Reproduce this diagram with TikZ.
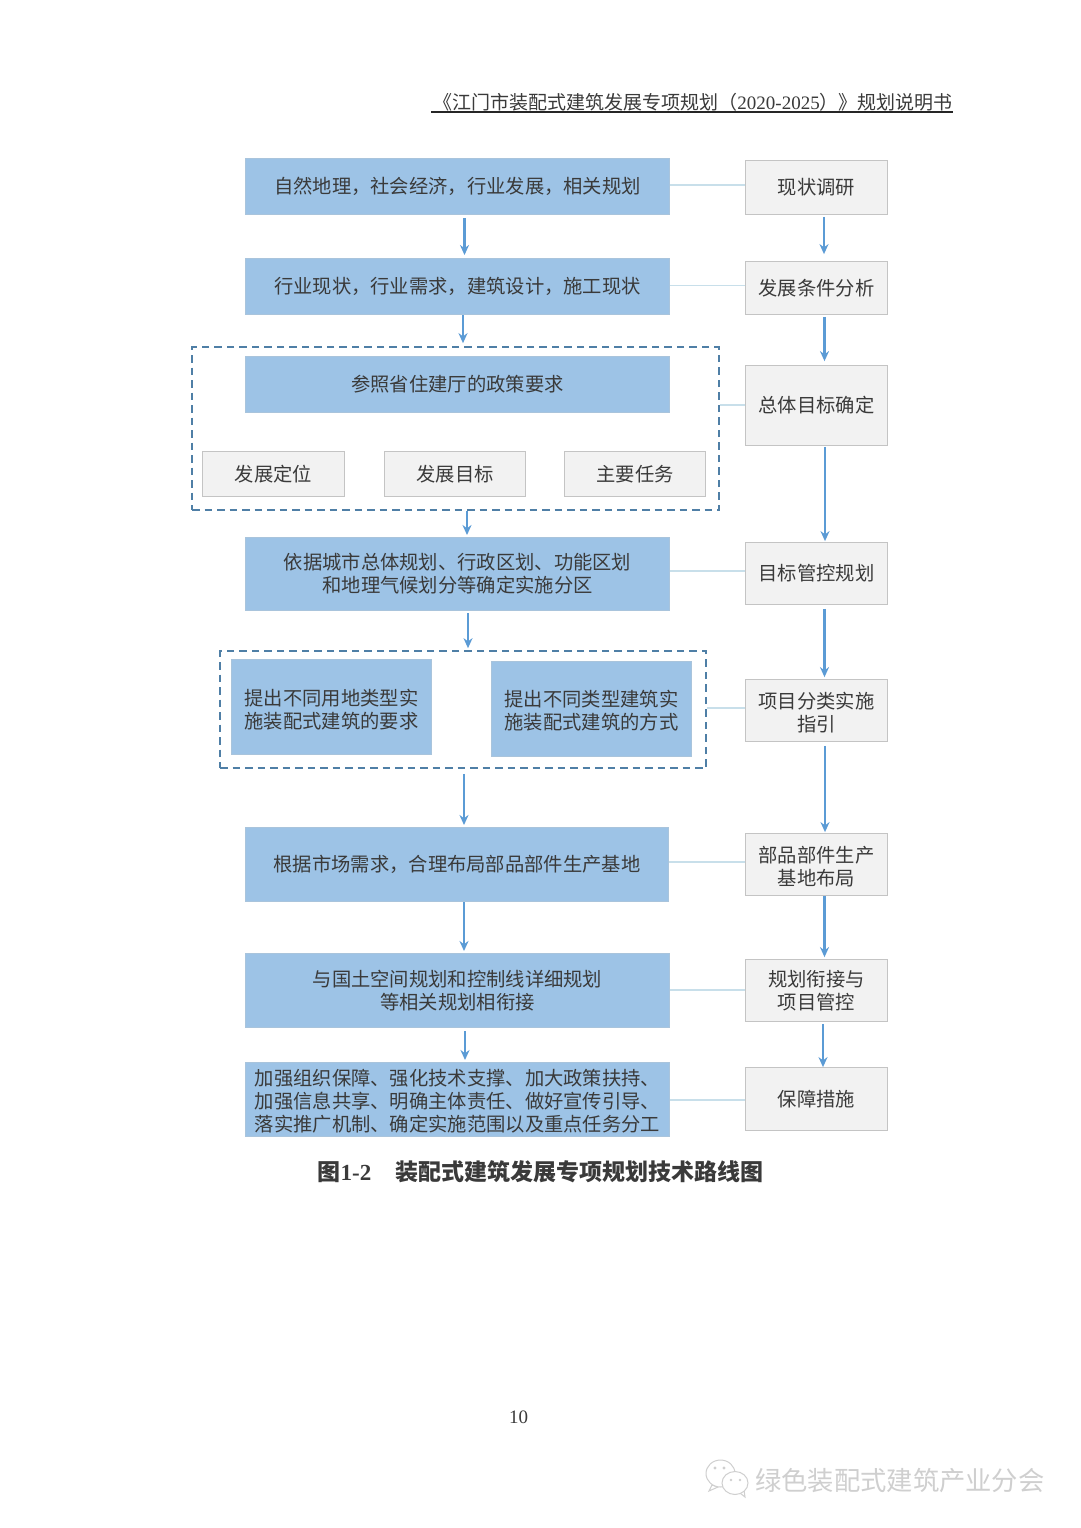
\documentclass[tikz,border=0pt]{standalone}
\usepackage{fontspec}
\setmainfont{Liberation Serif}
\newfontfamily\cjk{Noto Sans CJK SC}
\usetikzlibrary{arrows.meta}
\definecolor{boxblue}{HTML}{9DC3E6}
\definecolor{boxblueline}{HTML}{A9C4DC}
\definecolor{boxgray}{HTML}{F2F2F2}
\definecolor{boxgrayline}{HTML}{C4C4C4}
\definecolor{flowblue}{HTML}{5B9BD5}
\definecolor{linkblue}{HTML}{C8DFEA}
\definecolor{dashblue}{HTML}{4F7FA6}
\definecolor{inktext}{HTML}{3A3A3A}
\definecolor{markgray}{HTML}{CFCFCF}
\tikzset{
  x=1pt,y=-1pt,
  boxsz/.style 2 args={minimum width=#1pt-1.2pt,minimum height=#2pt-1.2pt},
  basebox/.style={rectangle,inner sep=0pt,align=center,text=inktext,
    font=\cjk\fontsize{19.3}{22.8}\selectfont},
  bluebox/.style={basebox,fill=boxblue,draw=boxblueline,line width=1.2pt},
  graybox/.style={basebox,fill=boxgray,draw=boxgrayline,line width=1pt},
  dashbox/.style={rectangle,inner sep=0pt,draw=dashblue,line width=1.7pt,dash pattern=on 7.5pt off 5pt},
  flowline/.style={draw=flowblue,line width=2.4pt,-{Stealth[length=10pt,width=9pt]}},
  linkline/.style={draw=linkblue,line width=1.2pt},
  bubble/.style={draw=markgray,fill=white,line width=1pt},
}
% pushes a node's text down by enlarging its first line
\newcommand\lowerby[1]{\rule{0pt}{\dimexpr 16.9pt+2\dimexpr #1pt\relax\relax}}
% vertical arrow at absolute x: from, to, x, gap at start, gap at end
\newcommand\flowat[5]{\path (#3,0) coordinate (fx);
  \draw[flowline] ([yshift=-#4pt]#1.south -| fx) -- ([yshift=#5pt]#2.north -| fx);}
% horizontal tie line at given offset
\newcommand\tie[3]{\draw[linkline] ([yshift=#3pt]#1.east) -- ([yshift=#3pt]#1.east -| #2.west);}
\begin{document}
\begin{tikzpicture}
\path[use as bounding box,fill=white] (0,0) rectangle (1080,1528);

% header
\node[anchor=east,inner sep=0pt,text=inktext,font=\fontsize{19}{22}\selectfont] (head) at (953,102)
  {{\cjk 《江门市装配式建筑发展专项规划（}2020-2025{\cjk ）》规划说明书}};
\coordinate (headR) at (953,112);
\coordinate (headL) at (431,112);
\draw[line width=1.2pt,black!85] (headL) -- (headR);

% dashed groups
\node[dashbox,minimum width=527pt,minimum height=163pt] (g1) at (455.5,428.5) {};
\node[dashbox,minimum width=486pt,minimum height=117pt] (g2) at (463,709.5) {};

% left column
\node[bluebox,boxsz={425}{57}] (L1) at (457.5,186.5) {自然地理，社会经济，行业发展，相关规划};
\node[bluebox,boxsz={425}{57}] (L2) at (457.5,286.5) {行业现状，行业需求，建筑设计，施工现状};
\node[bluebox,boxsz={425}{57}] (L3) at (457.5,384.5) {参照省住建厅的政策要求};
\node[graybox,boxsz={143}{46}] (G1) at (273.5,474) {发展定位};
\node[graybox,boxsz={142}{46}] (G2) at (455,474) {发展目标};
\node[graybox,boxsz={142}{46}] (G3) at (635,474) {主要任务};
\node[bluebox,boxsz={425}{74}] (L4) at (457.5,574) {依据城市总体规划、行政区划、功能区划\\和地理气候划分等确定实施分区};
\node[bluebox,boxsz={201}{96}] (A) at (331.5,707) {\lowerby{2.5}提出不同用地类型实\\施装配式建筑的要求};
\node[bluebox,boxsz={201}{96}] (B) at (591.5,709) {\lowerby{1.5}提出不同类型建筑实\\施装配式建筑的方式};
\node[bluebox,boxsz={424}{75}] (L5) at (457,864.5) {根据市场需求，合理布局部品部件生产基地};
\node[bluebox,boxsz={425}{75}] (L6) at (457.5,990.5) {与国土空间规划和控制线详细规划\\等相关规划相衔接};
\node[bluebox,boxsz={425}{75}] (L7) at (457.5,1099.5) {\lowerby{1.5}加强组织保障、强化技术支撑、加大政策扶持、\\加强信息共享、明确主体责任、做好宣传引导、\\落实推广机制、确定实施范围以及重点任务分工};

% right column
\node[graybox,boxsz={143}{55}] (R1) at (816.5,187.5) {现状调研};
\node[graybox,boxsz={143}{54}] (R2) at (816.5,288) {发展条件分析};
\node[graybox,boxsz={143}{81}] (R3) at (816.5,405.5) {总体目标确定};
\node[graybox,boxsz={143}{63}] (R4) at (816.5,573.5) {目标管控规划};
\node[graybox,boxsz={143}{63}] (R5) at (816.5,710.5) {\lowerby{1.5}项目分类实施\\指引};
\node[graybox,boxsz={143}{63}] (R6) at (816.5,864.5) {\lowerby{1.5}部品部件生产\\基地布局};
\node[graybox,boxsz={143}{63}] (R7) at (816.5,990.5) {规划衔接与\\项目管控};
\node[graybox,boxsz={143}{64}] (R8) at (816.5,1099) {保障措施};

% ties
\tie{L1}{R1}{1.5}
\tie{L2}{R2}{1}
\tie{g1}{R3}{23.5}
\tie{L4}{R4}{3}
\tie{g2}{R5}{1.5}
\tie{L5}{R6}{2.5}
\tie{L6}{R7}{0.5}
\tie{L7}{R8}{-0.5}

% left flow
\flowat{L1}{L2}{464.5}{3}{3}
\flowat{L2}{g1}{463}{0}{3}
\flowat{g1}{L4}{467}{0}{2}
\flowat{L4}{g2}{468}{2}{2}
\flowat{g2}{L5}{464}{5}{2}
\flowat{L5}{L6}{464}{0}{2}
\flowat{L6}{L7}{465}{3}{2}

% right flow
\flowat{R1}{R2}{824}{2}{7}
\flowat{R2}{R3}{824.5}{2}{4}
\flowat{R3}{R4}{825}{1}{1}
\flowat{R4}{R5}{824.5}{4}{2}
\flowat{R5}{R6}{825}{4}{1}
\flowat{R6}{R7}{824.5}{0}{2}
\flowat{R7}{R8}{823}{2}{0}

% caption
\node[inner sep=0pt,text=inktext,font=\bfseries\fontsize{23}{26}\selectfont] (cap) at (540.5,1172)
  {{\cjk\bfseries 图}1-2\hspace{24pt}{\cjk\bfseries 装配式建筑发展专项规划技术路线图}};

% page number
\node[inner sep=0pt,text=inktext,font=\fontsize{19}{22}\selectfont] (page) at (518.5,1417) {10};

% watermark
\node[anchor=west,inner sep=0pt,text=markgray,font=\cjk\fontsize{26.3}{30}\selectfont] (mark) at (755,1481) {绿色装配式建筑产业分会};
\draw[bubble] (712,1485) -- (709,1491) -- (718,1487) -- cycle;
\draw[bubble] (720.5,1473.5) ellipse [x radius=14.5,y radius=13.5];
\draw[bubble] (740,1493) -- (745,1497) -- (744,1490) -- cycle;
\draw[bubble] (735,1483) ellipse [x radius=13,y radius=11.5];
\fill[markgray] (715,1468) circle [radius=1.6] (724,1468) circle [radius=1.6]
  (731,1480) circle [radius=1.4] (740,1480) circle [radius=1.4];
\end{tikzpicture}
\end{document}
